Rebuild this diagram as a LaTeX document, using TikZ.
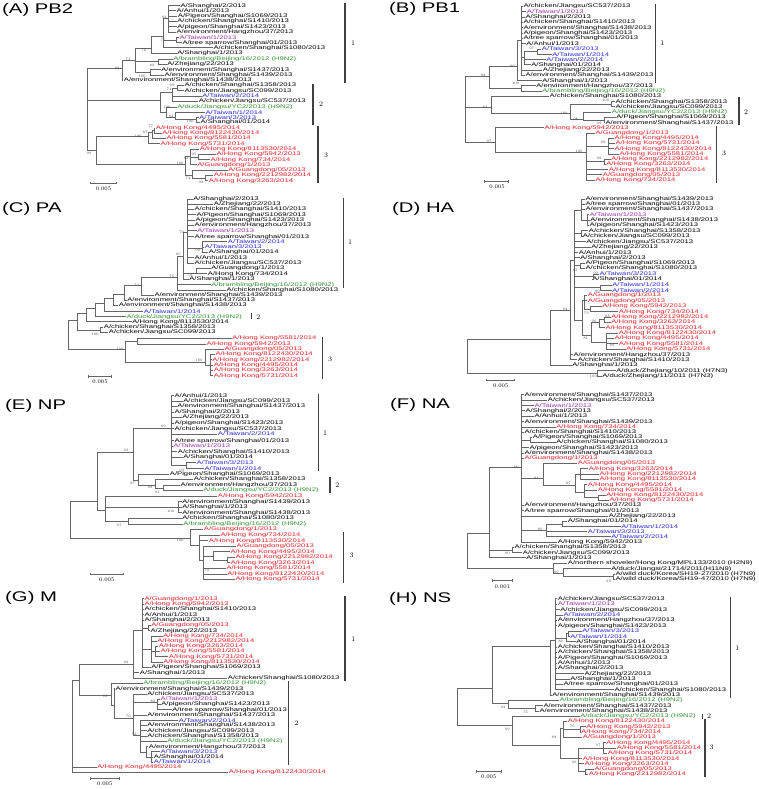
\documentclass[tikz,border=0pt]{standalone}
\usepackage{fontspec}
\usetikzlibrary{arrows.meta}
\newfontfamily\sansfig[FakeStretch=1.45]{Liberation Sans}
\definecolor{hkred}{RGB}{232,32,38}
\definecolor{twblue}{RGB}{40,40,225}
\definecolor{twpurple}{RGB}{160,50,175}
\definecolor{hngreen}{RGB}{50,150,50}
\newcommand\leaffont{\sansfig\fontsize{5.3}{5.3}\selectfont}
\newcommand\titlefont{\sansfig\fontsize{14}{14}\selectfont}
\newcommand\bsfont{\fontsize{3.6}{3.6}\selectfont}
\newcommand\cladefont{\fontsize{7}{7}\selectfont}
% branches: parent to leaves / parent to inner nodes
\newcommand\tips[2]{\foreach \kid in {#2} {\draw[br] (#1) |- (\kid.west);}}
\newcommand\subs[2]{\foreach \kid in {#2} {\draw[br] (#1) |- (\kid);}}

\begin{document}
\begin{tikzpicture}[x=1pt, y=-1pt,
    lf/.style={anchor=west, inner sep=0.4pt, font=\leaffont},
    hk/.style={text=hkred}, tw/.style={text=twblue},
    tw13/.style={text=twpurple}, hn/.style={text=hngreen},
    bs/.style={font=\bsfont, text=black!70, inner sep=0},
    br/.style={draw=black!60, line width=0.6pt},
    clade/.style={draw=black!75, line width=1.3pt},
    cl/.style={font=\cladefont, inner sep=0},
    ttl/.style={anchor=north west, inner sep=0, font=\titlefont},
    sbar/.style={draw=black!60, line width=0.6pt, {Bar[width=2.5pt]}-{Bar[width=2.5pt]}},
    sl/.style={font=\fontsize{5.5}{5.5}\selectfont, inner sep=0}]
\useasboundingbox (0,0) rectangle (759,789);

% ---------------- (A) PB2
\node[ttl] (aT) at (2,3) {(A) PB2};
\node[lf] (a1) at (180,5.7) {A/Shanghai/2/2013};
\node[lf] (a2) at (176,10.7) {A/Anhui/1/2013};
\node[lf] (a3) at (177.3,16) {A/Pigeon/Shanghai/S1069/2013};
\node[lf] (a4) at (176.7,21.3) {A/chicken/Shanghai/S1410/2013};
\node[lf] (a5) at (176.7,26.7) {A/pigeon/Shanghai/S1423/2013};
\node[lf] (a6) at (176,32) {A/environment/Hangzhou/37/2013};
\node[lf,tw13] (a7) at (179,37.3) {A/Taiwan/1/2013};
\node[lf] (a8) at (182,42.7) {A/tree sparrow/Shanghai/01/2013};
\node[lf] (a9) at (213,47.7) {A/chicken/Shanghai/S1080/2013};
\node[lf] (a10) at (176.7,53) {A/Shanghai/1/2013};
\node[lf,hn] (a11) at (172.7,59) {A/brambling/Beijing/16/2012 (H9N2)};
\node[lf] (a12) at (166.7,64.3) {A/Zhejiang/22/2013};
\node[lf] (a13) at (160.7,69.7) {A/environment/Shanghai/S1437/2013};
\node[lf] (a14) at (164,75) {A/environment/Shanghai/S1439/2013};
\node[lf] (a15) at (123.3,80.3) {A/environment/Shanghai/S1438/2013};
\node[lf] (a16) at (184,85.3) {A/chicken/Shanghai/S1358/2013};
\node[lf] (a17) at (184,90.7) {A/chicken/Jiangsu/SC099/2013};
\node[lf,tw] (a18) at (201.7,96) {A/Taiwan/2/2014};
\node[lf] (a19) at (198.3,101) {A/chicken/Jiangsu/SC537/2013};
\node[lf,hn] (a20) at (176.7,107.3) {A/duck/Jiangsu/YC2/2013 (H9N2)};
\node[lf,tw] (a21) at (205,112.3) {A/Taiwan/1/2014};
\node[lf,tw] (a22) at (198.7,117.3) {A/Taiwan/3/2013};
\node[lf] (a23) at (200,122.3) {A/Shanghai/01/2014};
\node[lf,hk] (a24) at (155.3,128) {A/Hong Kong/4495/2014};
\node[lf,hk] (a25) at (161.7,133) {A/Hong Kong/8122430/2014};
\node[lf,hk] (a26) at (166,138.3) {A/Hong Kong/5581/2014};
\node[lf,hk] (a27) at (160,143.7) {A/Hong Kong/5731/2014};
\node[lf,hk] (a28) at (199.3,149) {A/Hong Kong/8113530/2014};
\node[lf,hk] (a29) at (216,154.3) {A/Hong Kong/5942/2013};
\node[lf,hk] (a30) at (210,159.7) {A/Hong Kong/734/2014};
\node[lf,hk] (a31) at (196.7,164.7) {A/Guangdong/1/2013};
\node[lf,hk] (a32) at (227.7,170) {A/Guangdong/05/2013};
\node[lf,hk] (a33) at (213.3,175.3) {A/Hong Kong/2212982/2014};
\node[lf,hk] (a34) at (208.3,180.7) {A/Hong Kong/3263/2014};
\coordinate (aR) at (87,110);
\coordinate (aN1) at (122,68);
\coordinate (aN1a) at (135,60);
\coordinate (aN1b) at (151,48);
\coordinate (aN1e) at (163,36);
\coordinate (aN1f) at (168,18);
\coordinate (aN1g) at (176,40);
\coordinate (aN1c) at (158,61.7);
\coordinate (aN1d) at (150,72.3);
\coordinate (aN2) at (160,100);
\coordinate (aN2a) at (172,92);
\coordinate (aN2c) at (177,88);
\coordinate (aN2b) at (166,112);
\coordinate (aN2d) at (175,117);
\coordinate (aN2e) at (196,119.8);
\coordinate (aN3) at (96,150);
\coordinate (aN3a) at (148,136);
\coordinate (aN3c) at (152,132);
\coordinate (aN3d) at (154,130.5);
\coordinate (aN3b) at (185,164);
\coordinate (aN3e) at (190,156);
\coordinate (aN3g) at (198,157);
\coordinate (aN3f) at (192,175);
\coordinate (aN3h) at (205,178);
\subs{aR}{aN1,aN2,aN3}
\subs{aN1}{aN1a} \tips{aN1}{a15}
\subs{aN1a}{aN1b,aN1c,aN1d}
\subs{aN1b}{aN1e} \tips{aN1b}{a10}
\subs{aN1e}{aN1f,aN1g} \tips{aN1e}{a9}
\tips{aN1f}{a1,a2,a3,a4,a5,a6}
\tips{aN1g}{a7,a8}
\tips{aN1c}{a11,a12}
\tips{aN1d}{a13,a14}
\subs{aN2}{aN2a,aN2b}
\subs{aN2a}{aN2c} \tips{aN2a}{a18,a19}
\tips{aN2c}{a16,a17}
\subs{aN2b}{aN2d} \tips{aN2b}{a20}
\subs{aN2d}{aN2e} \tips{aN2d}{a21}
\tips{aN2e}{a22,a23}
\subs{aN3}{aN3a,aN3b}
\subs{aN3a}{aN3c} \tips{aN3a}{a27}
\subs{aN3c}{aN3d} \tips{aN3c}{a26}
\tips{aN3d}{a24,a25}
\subs{aN3b}{aN3e,aN3f}
\subs{aN3e}{aN3g} \tips{aN3e}{a28,a31}
\tips{aN3g}{a29,a30}
\subs{aN3f}{aN3h} \tips{aN3f}{a32}
\tips{aN3h}{a33,a34}
\node[bs] (aB1) at (164,17.5) {82};
\node[bs] (aB2) at (163,40.7) {75};
\node[bs] (aB3) at (144,50) {76};
\node[bs] (aB4) at (128,59) {73};
\node[bs] (aB5) at (152,65) {89};
\node[bs] (aB6) at (142,76) {100};
\node[bs] (aB7) at (117,68.5) {98};
\node[bs] (aB8) at (172,85) {99};
\node[bs] (aB9) at (169,89.5) {74};
\node[bs] (aB10) at (167,107.5) {100};
\node[bs] (aB11) at (171,116.5) {84};
\node[bs] (aB12) at (190,121.5) {100};
\node[bs] (aB13) at (150.5,126) {77};
\node[bs] (aB14) at (145,132) {87};
\node[bs] (aB15) at (138,136) {100};
\node[bs] (aB16) at (89,153) {99};
\node[bs] (aB17) at (186,158) {82};
\node[bs] (aB18) at (194,154) {95};
\node[bs] (aB19) at (180,163) {100};
\node[bs] (aB20) at (188,178) {74};
\node[bs] (aB21) at (201,182) {98};
\draw[clade] (345,3) -- (345,83);
\node[cl] (aC1) at (353,43) {1};
\draw[clade] (313,84) -- (313,125);
\node[cl] (aC2) at (321,104) {2};
\draw[clade] (318,126) -- (318,183);
\node[cl] (aC3) at (326,155) {3};
\coordinate (aS1) at (90,183); \coordinate (aS2) at (117,183);
\draw[sbar] (aS1) -- (aS2);
\node[sl] (aSl) at (103.5,188.5) {0.005};

% ---------------- (B) PB1
\node[ttl] (bT) at (389,2) {(B) PB1};
\node[lf] (b1) at (523,6.3) {A/chicken/Jiangsu/SC537/2013};
\node[lf,tw13] (b2) at (526.3,11.7) {A/Taiwan/1/2013};
\node[lf] (b3) at (525,17) {A/Shanghai/2/2013};
\node[lf] (b4) at (523,22.3) {A/chicken/Shanghai/S1410/2013};
\node[lf] (b5) at (523,27.7) {A/environment/Shanghai/S1438/2013};
\node[lf] (b6) at (523,33) {A/pigeon/Shanghai/S1423/2013};
\node[lf] (b7) at (523,38.3) {A/tree sparrow/Shanghai/01/2013};
\node[lf] (b8) at (525.7,43.7) {A/Anhui/1/2013};
\node[lf,tw] (b9) at (541.3,49) {A/Taiwan/3/2013};
\node[lf,tw] (b10) at (551.7,54.3) {A/Taiwan/1/2014};
\node[lf,tw] (b11) at (545.7,59.3) {A/Taiwan/2/2014};
\node[lf] (b12) at (530.7,64.7) {A/Shanghai/01/2014};
\node[lf] (b13) at (542.3,70) {A/Zhejiang/22/2013};
\node[lf] (b14) at (525,75.3) {A/environment/Shanghai/S1439/2013};
\node[lf] (b15) at (541.7,80.7) {A/Shanghai/1/2013};
\node[lf] (b16) at (535.7,85.7) {A/environment/Hangzhou/37/2013};
\node[lf,hn] (b17) at (541.7,91) {A/brambling/Beijing/16/2012 (H9N2)};
\node[lf] (b18) at (549,96.3) {A/chicken/Shanghai/S1080/2013};
\node[lf] (b19) at (615,101.7) {A/chicken/Shanghai/S1358/2013};
\node[lf] (b20) at (615,106.7) {A/chicken/Jiangsu/SC099/2013};
\node[lf,hn] (b21) at (611.3,112.3) {A/duck/Jiangsu/YC2/2013 (H9N2)};
\node[lf] (b22) at (615.7,117.3) {A/Pigeon/Shanghai/S1069/2013};
\node[lf] (b23) at (605,122.7) {A/environment/Shanghai/S1437/2013};
\node[lf,hk] (b24) at (544,127.7) {A/Hong Kong/5942/2013};
\node[lf,hk] (b25) at (595,133) {A/Guangdong/1/2013};
\node[lf,hk] (b26) at (614,138) {A/Hong Kong/4495/2014};
\node[lf,hk] (b27) at (615,143.3) {A/Hong Kong/5731/2014};
\node[lf,hk] (b28) at (614,148.7) {A/Hong Kong/8122430/2014};
\node[lf,hk] (b29) at (619,154) {A/Hong Kong/5581/2014};
\node[lf,hk] (b30) at (610.7,159) {A/Hong Kong/2212982/2014};
\node[lf,hk] (b31) at (605.7,164.3) {A/Hong Kong/3263/2014};
\node[lf,hk] (b32) at (608.3,169.7) {A/Hong Kong/8113530/2014};
\node[lf,hk] (b33) at (602.3,174.7) {A/Guangdong/05/2013};
\node[lf,hk] (b34) at (595,180) {A/Hong Kong/734/2014};
\coordinate (bR) at (465,110);
\coordinate (bNA) at (489,76);
\coordinate (bN1) at (517,66);
\coordinate (bN1a) at (521,40);
\coordinate (bN1b) at (524,57);
\coordinate (bN1c) at (537,51.7);
\coordinate (bNH) at (521,88.3);
\coordinate (bNB) at (491,107);
\coordinate (bN2) at (570,113);
\coordinate (bN2a) at (611,104.2);
\coordinate (bN2b) at (583,119);
\coordinate (bN2c) at (604,120);
\coordinate (bNC) at (495,142);
\coordinate (bN3) at (586,152);
\coordinate (bN3a) at (608,146);
\coordinate (bN3b) at (604,161.7);
\subs{bR}{bNA,bNB,bNC}
\subs{bNA}{bN1,bNH}
\subs{bN1}{bN1a} \tips{bN1}{b15}
\subs{bN1a}{bN1b} \tips{bN1a}{b1,b2,b3,b4,b5,b6,b7,b8,b13,b14}
\subs{bN1b}{bN1c} \tips{bN1b}{b11,b12}
\tips{bN1c}{b9,b10}
\tips{bNH}{b16,b17}
\subs{bNB}{bN2} \tips{bNB}{b18}
\subs{bN2}{bN2a,bN2b}
\tips{bN2a}{b19,b20}
\subs{bN2b}{bN2c} \tips{bN2b}{b21}
\tips{bN2c}{b22,b23}
\subs{bNC}{bN3} \tips{bNC}{b24}
\subs{bN3}{bN3a,bN3b} \tips{bN3}{b25,b32,b33,b34}
\tips{bN3a}{b26,b27,b28,b29}
\tips{bN3b}{b30,b31}
\node[bs] (bB1) at (531.7,48.3) {97};
\node[bs] (bB2) at (512.3,66.7) {99};
\node[bs] (bB3) at (483,75) {98};
\node[bs] (bB4) at (515.7,83.3) {100};
\node[bs] (bB5) at (485,107.3) {83};
\node[bs] (bB6) at (605.7,100) {100};
\node[bs] (bB7) at (564,113.3) {100};
\node[bs] (bB8) at (575.7,119.3) {98};
\node[bs] (bB9) at (599,123.3) {99};
\node[bs] (bB10) at (489,141.7) {97};
\node[bs] (bB11) at (603,142.7) {99};
\node[bs] (bB12) at (579,151.7) {100};
\node[bs] (bB13) at (599,158.3) {99};
\draw[clade] (655.7,4) -- (655.7,83);
\node[cl] (bC1) at (662.3,43) {1};
\draw[clade] (739,97) -- (739,125);
\node[cl] (bC2) at (746,112) {2};
\draw[clade] (716.3,126) -- (716.3,183);
\node[cl] (bC3) at (724,153.3) {3};
\coordinate (bS1) at (484,181.7); \coordinate (bS2) at (509,181.7);
\draw[sbar] (bS1) -- (bS2);
\node[sl] (bSl) at (497,186.5) {0.005};

% ---------------- (C) PA
\node[ttl] (cT) at (2,202) {(C) PA};
\node[lf] (c1) at (192.7,199) {A/Shanghai/2/2013};
\node[lf] (c2) at (213.3,204.3) {A/Zhejiang/22/2013};
\node[lf] (c3) at (194,209.3) {A/chicken/Shanghai/S1410/2013};
\node[lf] (c4) at (196,214.7) {A/Pigeon/Shanghai/S1069/2013};
\node[lf] (c5) at (195,220) {A/pigeon/Shanghai/S1423/2013};
\node[lf] (c6) at (194,225) {A/environment/Hangzhou/37/2013};
\node[lf,tw13] (c7) at (196.7,230.3) {A/Taiwan/1/2013};
\node[lf] (c8) at (194,236.7) {A/tree sparrow/Shanghai/01/2013};
\node[lf,tw] (c9) at (227.3,241.7) {A/Taiwan/2/2014};
\node[lf,tw] (c10) at (204.3,247) {A/Taiwan/3/2013};
\node[lf] (c11) at (208.3,252.3) {A/Shanghai/01/2014};
\node[lf] (c12) at (194,257.7) {A/Anhui/1/2013};
\node[lf] (c13) at (194,263) {A/chicken/Jiangsu/SC537/2013};
\node[lf] (c14) at (210.7,268.3) {A/Guangdong/1/2013};
\node[lf] (c15) at (207.3,273.7) {A/Hong Kong/734/2014};
\node[lf] (c16) at (188.7,279) {A/Shanghai/1/2013};
\node[lf,hn] (c17) at (210.7,284.7) {A/brambling/Beijing/16/2012 (H9N2)};
\node[lf] (c18) at (226,290) {A/chicken/Shanghai/S1080/2013};
\node[lf] (c19) at (154,295) {A/environment/Shanghai/S1439/2013};
\node[lf] (c20) at (126.7,300.3) {A/environment/Shanghai/S1437/2013};
\node[lf] (c21) at (118.3,305.3) {A/environment/Shanghai/S1438/2013};
\node[lf,tw] (c22) at (143.3,311.3) {A/Taiwan/1/2014};
\node[lf,hn] (c23) at (126,316.7) {A/duck/Jiangsu/YC2/2013 (H9N2)};
\node[lf] (c24) at (131.7,321.7) {A/Hong Kong/8113530/2014};
\node[lf] (c25) at (103.3,327) {A/chicken/Shanghai/S1358/2013};
\node[lf] (c26) at (108.3,332.3) {A/chicken/Jiangsu/SC099/2013};
\node[lf,hk] (c27) at (231.7,338.3) {A/Hong Kong/5581/2014};
\node[lf,hk] (c28) at (206,344) {A/Hong Kong/5942/2013};
\node[lf,hk] (c29) at (224,349) {A/Guangdong/05/2013};
\node[lf,hk] (c30) at (215,354.3) {A/Hong Kong/8122430/2014};
\node[lf,hk] (c31) at (211.7,359.7) {A/Hong Kong/2212982/2014};
\node[lf,hk] (c32) at (213.3,365) {A/Hong Kong/4495/2014};
\node[lf,hk] (c33) at (213.3,370.3) {A/Hong Kong/3263/2014};
\node[lf,hk] (c34) at (213.3,375.7) {A/Hong Kong/5731/2014};
\coordinate (cR) at (68,335);
\coordinate (cL1) at (77,320);
\coordinate (cNX) at (100,330);
\coordinate (cL2) at (86,313);
\coordinate (cL3) at (95,308);
\coordinate (cL4) at (104,303);
\coordinate (cL5) at (113,298);
\coordinate (cL6) at (124,294);
\coordinate (cL7) at (141,285);
\coordinate (cL8) at (177,277);
\coordinate (cL9) at (183,256);
\coordinate (cL10) at (187,232);
\coordinate (cNT) at (202,248);
\coordinate (cNG) at (196,273);
\coordinate (cN3) at (125,349);
\coordinate (cN3x) at (137,341);
\coordinate (cN3a) at (205,362);
\coordinate (cN3b) at (210,365);
\subs{cR}{cL1,cN3}
\subs{cL1}{cL2,cNX}
\subs{cL2}{cL3} \tips{cL2}{c24}
\subs{cL3}{cL4} \tips{cL3}{c23}
\subs{cL4}{cL5} \tips{cL4}{c22}
\subs{cL5}{cL6} \tips{cL5}{c21}
\subs{cL6}{cL7} \tips{cL6}{c20}
\subs{cL7}{cL8} \tips{cL7}{c19}
\subs{cL8}{cL9} \tips{cL8}{c17,c18}
\subs{cL9}{cL10,cNG} \tips{cL9}{c16}
\subs{cL10}{cNT} \tips{cL10}{c1,c2,c3,c4,c5,c6,c7,c8,c12,c13}
\tips{cNT}{c9,c10,c11}
\tips{cNG}{c14,c15}
\tips{cNX}{c25,c26}
\subs{cN3}{cN3x,cN3a}
\tips{cN3x}{c27,c28}
\subs{cN3a}{cN3b} \tips{cN3a}{c29}
\tips{cN3b}{c30,c31,c32,c33,c34}
\node[bs] (cB1) at (181.7,232.3) {70};
\node[bs] (cB2) at (197.7,250) {99};
\node[bs] (cB3) at (178.3,254.3) {85};
\node[bs] (cB4) at (190.7,275) {91};
\node[bs] (cB5) at (171.7,276.7) {76};
\node[bs] (cB6) at (136.7,285) {74};
\node[bs] (cB7) at (95,334.3) {100};
\node[bs] (cB8) at (120,349) {100};
\node[bs] (cB9) at (199,360.7) {100};
\draw[clade] (343.3,197.7) -- (343.3,287.7);
\node[cl] (cC1) at (350,241.7) {1};
\draw[clade] (251.7,313.3) -- (251.7,319);
\node[cl] (cC2) at (258.3,316.7) {2};
\draw[clade] (322.7,336.7) -- (322.7,379);
\node[cl] (cC3) at (330,359.3) {3};
\coordinate (cS1) at (88.3,376.7); \coordinate (cS2) at (111.7,376.7);
\draw[sbar] (cS1) -- (cS2);
\node[sl] (cSl) at (100,381.7) {0.005};

% ---------------- (D) HA
\node[ttl] (dT) at (392,202) {(D) HA};
\node[lf] (d1) at (585,199) {A/environment/Shanghai/S1439/2013};
\node[lf] (d2) at (585,204.3) {A/tree sparrow/Shanghai/01/2013};
\node[lf] (d3) at (585,209.3) {A/environment/Shanghai/S1437/2013};
\node[lf,tw13] (d4) at (589,214.7) {A/Taiwan/1/2013};
\node[lf] (d5) at (589.7,220) {A/environment/Shanghai/S1438/2013};
\node[lf] (d6) at (589,225.3) {A/pigeon/Shanghai/S1423/2013};
\node[lf] (d7) at (588.3,230.7) {A/chicken/Shanghai/S1358/2013};
\node[lf] (d8) at (582.3,236) {A/chicken/Jiangsu/SC099/2013};
\node[lf] (d9) at (585.7,241.7) {A/chicken/Jiangsu/SC537/2013};
\node[lf] (d10) at (590.7,247) {A/Zhejiang/22/2013};
\node[lf] (d11) at (578.3,252.3) {A/Anhui/1/2013};
\node[lf] (d12) at (579.7,257.7) {A/Shanghai/2/2013};
\node[lf] (d13) at (585,263) {A/Pigeon/Shanghai/S1069/2013};
\node[lf] (d14) at (585,268.3) {A/chicken/Shanghai/S1080/2013};
\node[lf,tw] (d15) at (599,274) {A/Taiwan/3/2013};
\node[lf] (d16) at (591.7,279.3) {A/Shanghai/01/2014};
\node[lf,tw] (d17) at (611.7,285) {A/Taiwan/1/2014};
\node[lf,tw] (d18) at (611.7,290.3) {A/Taiwan/2/2014};
\node[lf,hk] (d19) at (587.3,295.3) {A/Guangdong/1/2013};
\node[lf,hk] (d20) at (587.3,300.7) {A/Guangdong/05/2013};
\node[lf,hk] (d21) at (601.7,306) {A/Hong Kong/5942/2013};
\node[lf,hk] (d22) at (618.3,311.7) {A/Hong Kong/734/2014};
\node[lf,hk] (d23) at (610.7,317) {A/Hong Kong/2212982/2014};
\node[lf,hk] (d24) at (610.7,322.3) {A/Hong Kong/3263/2014};
\node[lf,hk] (d25) at (605,327.7) {A/Hong Kong/8113530/2014};
\node[lf,hk] (d26) at (618.3,333) {A/Hong Kong/8122430/2014};
\node[lf,hk] (d27) at (614,338.3) {A/Hong Kong/4495/2014};
\node[lf,hk] (d28) at (618.3,343.7) {A/Hong Kong/5581/2014};
\node[lf,hk] (d29) at (625.7,349) {A/Hong Kong/5731/2014};
\node[lf] (d30) at (573,354.7) {A/environment/Hangzhou/37/2013};
\node[lf] (d31) at (577.3,359.7) {A/chicken/Shanghai/S1410/2013};
\node[lf] (d32) at (571.7,365) {A/Shanghai/1/2013};
\node[lf] (d33) at (615.7,370.7) {A/duck/Zhejiang/10/2011 (H7N3)};
\node[lf] (d34) at (601.7,376) {A/duck/Zhejiang/11/2011 (H7N3)};
\coordinate (dR) at (467,355);
\coordinate (dNu) at (550.7,339);
\coordinate (dN94) at (570.7,310);
\coordinate (dNc) at (574,260);
\coordinate (dNc1) at (581,210);
\coordinate (dNc2) at (587,220);
\coordinate (dNc3) at (581.5,233.3);
\coordinate (dN85) at (580,265.7);
\coordinate (dN99a) at (593,276.7);
\coordinate (dN99b) at (600,287.7);
\coordinate (dNred) at (582,320);
\coordinate (dNr1) at (584.7,300);
\coordinate (dNr73) at (590,309);
\coordinate (dNr81) at (591,335);
\coordinate (dNr96) at (599,322);
\coordinate (dNr88) at (604,319.7);
\coordinate (dNr99) at (606,342);
\coordinate (dNH7) at (597.3,373);
\subs{dR}{dNu,dNH7}
\subs{dNu}{dN94} \tips{dNu}{d32}
\subs{dN94}{dNc} \tips{dN94}{d30,d31}
\subs{dNc}{dNc1,dNc3,dN85,dN99a,dN99b,dNred} \tips{dNc}{d9,d10,d11,d12}
\subs{dNc1}{dNc2} \tips{dNc1}{d1,d2,d3}
\tips{dNc2}{d4,d5,d6}
\tips{dNc3}{d7,d8}
\tips{dN85}{d13,d14}
\tips{dN99a}{d15,d16}
\tips{dN99b}{d17,d18}
\subs{dNred}{dNr1,dNr81}
\subs{dNr1}{dNr73} \tips{dNr1}{d19,d20}
\tips{dNr73}{d21,d22}
\subs{dNr81}{dNr96,dNr99}
\subs{dNr96}{dNr88} \tips{dNr96}{d25}
\tips{dNr88}{d23,d24}
\tips{dNr99}{d26,d27,d28,d29}
\tips{dNH7}{d33,d34}
\node[bs] (dB1) at (575,270) {85};
\node[bs] (dB2) at (595.7,273.3) {99};
\node[bs] (dB3) at (597.3,291.7) {99};
\node[bs] (dB4) at (565,309.3) {94};
\node[bs] (dB5) at (586.3,313.3) {73};
\node[bs] (dB6) at (607.3,316.7) {88};
\node[bs] (dB7) at (594,321) {96};
\node[bs] (dB8) at (585.7,338.3) {81};
\node[bs] (dB9) at (612,345.5) {99};
\node[bs] (dB10) at (593.3,376.7) {100};
\coordinate (dS1) at (486.3,380); \coordinate (dS2) at (515,380);
\draw[sbar] (dS1) -- (dS2);
\node[sl] (dSl) at (500.7,385.7) {0.005};

% ---------------- (E) NP
\node[ttl] (eT) at (5,399) {(E) NP};
\node[lf] (e1) at (174,395.7) {A/Anhui/1/2013};
\node[lf] (e2) at (182.7,401) {A/chicken/Jiangsu/SC099/2013};
\node[lf] (e3) at (176.7,406.3) {A/environment/Shanghai/S1437/2013};
\node[lf] (e4) at (174,412) {A/Shanghai/2/2013};
\node[lf] (e5) at (181.7,417.3) {A/Zhejiang/22/2013};
\node[lf] (e6) at (174,423) {A/pigeon/Shanghai/S1423/2013};
\node[lf] (e7) at (174,428.7) {A/chicken/Jiangsu/SC537/2013};
\node[lf,tw] (e8) at (217.3,434) {A/Taiwan/2/2014};
\node[lf] (e9) at (174,440.7) {A/tree sparrow/Shanghai/01/2013};
\node[lf,tw13] (e10) at (172.7,446) {A/Taiwan/1/2013};
\node[lf] (e11) at (177.3,451.7) {A/chicken/Shanghai/S1410/2013};
\node[lf] (e12) at (182.7,457) {A/Shanghai/01/2014};
\node[lf,tw] (e13) at (196,462.7) {A/Taiwan/3/2013};
\node[lf,tw] (e14) at (204,468.3) {A/Taiwan/1/2014};
\node[lf] (e15) at (169.3,474) {A/Pigeon/Shanghai/S1069/2013};
\node[lf] (e16) at (193.3,479.3) {A/chicken/Shanghai/S1358/2013};
\node[lf] (e17) at (180,485) {A/environment/Hangzhou/37/2013};
\node[lf,hn] (e18) at (202.7,490.3) {A/duck/Jiangsu/YC2/2013 (H9N2)};
\node[lf,hk] (e19) at (217.3,496) {A/Hong Kong/5942/2013};
\node[lf] (e20) at (181.7,501.7) {A/environment/Shanghai/S1439/2013};
\node[lf] (e21) at (181.7,507) {A/Shanghai/1/2013};
\node[lf] (e22) at (181.7,512.7) {A/environment/Shanghai/S1438/2013};
\node[lf] (e23) at (181.7,518.3) {A/chicken/Shanghai/S1080/2013};
\node[lf,hn] (e24) at (182.7,524) {A/brambling/Beijing/16/2012 (H9N2)};
\node[lf,hk] (e25) at (203.3,529.3) {A/Guangdong/1/2013};
\node[lf,hk] (e26) at (220,535) {A/Hong Kong/734/2014};
\node[lf,hk] (e27) at (208.3,540.7) {A/Hong Kong/8113530/2014};
\node[lf,hk] (e28) at (236,546) {A/Guangdong/05/2013};
\node[lf,hk] (e29) at (230,551.7) {A/Hong Kong/4495/2014};
\node[lf,hk] (e30) at (235,557.3) {A/Hong Kong/2212982/2014};
\node[lf,hk] (e31) at (230,562.7) {A/Hong Kong/3263/2014};
\node[lf,hk] (e32) at (226,568.3) {A/Hong Kong/5581/2014};
\node[lf,hk] (e33) at (226.7,574) {A/Hong Kong/8122430/2014};
\node[lf,hk] (e34) at (235,579.3) {A/Hong Kong/5731/2014};
\coordinate (eR) at (70,518);
\coordinate (eNU) at (97,501.7);
\coordinate (eN93) at (133,452);
\coordinate (eN99) at (171,428);
\coordinate (eNtw) at (186,465.5);
\coordinate (eN87) at (138,480);
\coordinate (eN98) at (155,485);
\coordinate (eN91) at (163,488);
\coordinate (eNm) at (105,510);
\coordinate (eN100) at (178,507);
\coordinate (eN97) at (128,521);
\coordinate (eN3) at (190,538);
\coordinate (eN3a) at (199,545);
\coordinate (eN3b) at (203,560);
\coordinate (eN3c) at (213,556);
\coordinate (eN3d) at (227,560);
\subs{eR}{eNU,eN3}
\subs{eNU}{eN93,eNm}
\subs{eN93}{eN99,eN87}
\subs{eN99}{eNtw} \tips{eN99}{e1,e2,e3,e4,e5,e6,e7,e8,e9,e10,e11,e12}
\tips{eNtw}{e13,e14}
\subs{eN87}{eN98} \tips{eN87}{e15}
\subs{eN98}{eN91} \tips{eN98}{e16}
\tips{eN91}{e17,e18}
\subs{eNm}{eN100,eN97} \tips{eNm}{e19}
\tips{eN100}{e20,e21,e22}
\tips{eN97}{e23,e24}
\subs{eN3}{eN3a} \tips{eN3}{e25}
\subs{eN3a}{eN3b} \tips{eN3a}{e26,e27}
\subs{eN3b}{eN3c} \tips{eN3b}{e28,e32,e33,e34}
\subs{eN3c}{eN3d} \tips{eN3c}{e29}
\tips{eN3d}{e30,e31}
\node[bs] (eB1) at (163.3,426) {99};
\node[bs] (eB2) at (126,450.7) {93};
\node[bs] (eB3) at (181.7,470) {93};
\node[bs] (eB4) at (132.7,483.3) {87};
\node[bs] (eB5) at (150,487.3) {98};
\node[bs] (eB6) at (157.3,492.3) {91};
\node[bs] (eB7) at (170.7,511.7) {100};
\node[bs] (eB8) at (119,525) {97};
\node[bs] (eB9) at (180,540) {100};
\node[bs] (eB10) at (206.7,570) {74};
\draw[clade] (318.3,394) -- (318.3,470.7);
\node[cl] (eC1) at (325,432.7) {1};
\draw[clade] (330,477.3) -- (330,493.3);
\node[cl] (eC2) at (337.3,485) {2};
\draw[clade] (343.3,532.3) -- (343.3,583.3);
\node[cl] (eC3) at (351.7,555.7) {3};
\coordinate (eS1) at (90,574); \coordinate (eS2) at (123.3,574);
\draw[sbar] (eS1) -- (eS2);
\node[sl] (eSl) at (106.7,580) {0.005};

% ---------------- (F) NA
\node[ttl] (fT) at (390,398) {(F) NA};
\node[lf] (f1) at (524,394.7) {A/environment/Shanghai/S1437/2013};
\node[lf] (f2) at (547.3,400) {A/chicken/Jiangsu/SC537/2013};
\node[lf,tw13] (f3) at (534,405.3) {A/Taiwan/1/2013};
\node[lf] (f4) at (525,410.7) {A/Shanghai/2/2013};
\node[lf] (f5) at (534,416) {A/Anhui/1/2013};
\node[lf] (f6) at (524,421.7) {A/environment/Shanghai/S1439/2013};
\node[lf,hk] (f7) at (555.7,427) {A/Hong Kong/734/2014};
\node[lf] (f8) at (524,432.3) {A/chicken/Shanghai/S1410/2013};
\node[lf] (f9) at (532.3,437.3) {A/Pigeon/Shanghai/S1069/2013};
\node[lf] (f10) at (555.7,442.3) {A/chicken/Shanghai/S1080/2013};
\node[lf] (f11) at (529,447.7) {A/pigeon/Shanghai/S1423/2013};
\node[lf] (f12) at (524,453) {A/environment/Shanghai/S1438/2013};
\node[lf,hk] (f13) at (524,458) {A/Guangdong/1/2013};
\node[lf,hk] (f14) at (577.3,463) {A/Guangdong/05/2013};
\node[lf,hk] (f15) at (588.3,468.7) {A/Hong Kong/3263/2014};
\node[lf,hk] (f16) at (599,474) {A/Hong Kong/2212982/2014};
\node[lf,hk] (f17) at (599,479.3) {A/Hong Kong/8113530/2014};
\node[lf,hk] (f18) at (587.3,484.7) {A/Hong Kong/4495/2014};
\node[lf,hk] (f19) at (597.3,490) {A/Hong Kong/5581/2014};
\node[lf,hk] (f20) at (605.7,495) {A/Hong Kong/8122430/2014};
\node[lf,hk] (f21) at (609,500.3) {A/Hong Kong/5731/2014};
\node[lf] (f22) at (524,505.3) {A/environment/Hangzhou/37/2013};
\node[lf] (f23) at (524,510.7) {A/tree sparrow/Shanghai/01/2013};
\node[lf] (f24) at (608.3,516) {A/Zhejiang/22/2013};
\node[lf] (f25) at (567.3,521) {A/Shanghai/01/2014};
\node[lf,tw] (f26) at (620.7,526.3) {A/Taiwan/1/2014};
\node[lf,tw] (f27) at (587.3,531.3) {A/Taiwan/3/2013};
\node[lf,tw] (f28) at (610.7,536.7) {A/Taiwan/2/2014};
\node[lf] (f29) at (557.3,542) {A/Hong Kong/5942/2013};
\node[lf] (f30) at (514,547.3) {A/chicken/Shanghai/S1358/2013};
\node[lf] (f31) at (522.3,552.7) {A/chicken/Jiangsu/SC099/2013};
\node[lf] (f32) at (525.7,557.7) {A/Shanghai/1/2013};
\node[lf] (f33) at (567.3,563.3) {A/northern shoveler/Hong Kong/MPL133/2010 (H2N9)};
\node[lf] (f34) at (610.7,568.7) {A/duck/Jiangsi/21714/2011(H11N9)};
\node[lf] (f35) at (615,574) {A/wild duck/Korea/SH19-27/2010 (H7N9)};
\node[lf] (f36) at (615,579) {A/wild duck/Korea/SH19-47/2010 (H7N9)};
\coordinate (fR) at (467.3,555);
\coordinate (fNU) at (489,533);
\coordinate (fN88) at (521.7,467);
\coordinate (fNpig) at (530,440);
\coordinate (fN94) at (543,478);
\coordinate (fN87) at (575,485);
\coordinate (fNq) at (580,474);
\coordinate (fNr) at (584,492);
\coordinate (fNs) at (598,497.7);
\coordinate (fN80) at (546,530);
\coordinate (fNa) at (562,524);
\coordinate (fN90) at (512,550);
\coordinate (fNW) at (553,568);
\coordinate (fN99) at (563,573);
\coordinate (fN99b) at (613,576.5);
\subs{fR}{fNU,fNW}
\subs{fNU}{fN88,fN90} \tips{fNU}{f32}
\subs{fN88}{fNpig,fN94,fN80} \tips{fN88}{f1,f2,f3,f4,f5,f6,f7,f8,f11,f12,f13,f22,f23,f24,f29}
\tips{fNpig}{f9,f10}
\subs{fN94}{fN87} \tips{fN94}{f14}
\subs{fN87}{fNq,fNr}
\tips{fNq}{f15,f16,f17}
\subs{fNr}{fNs} \tips{fNr}{f18,f19}
\tips{fNs}{f20,f21}
\subs{fN80}{fNa} \tips{fN80}{f27,f28}
\tips{fNa}{f25,f26}
\tips{fN90}{f30,f31}
\subs{fNW}{fN99} \tips{fNW}{f33}
\subs{fN99}{fN99b} \tips{fN99}{f34}
\tips{fN99b}{f35,f36}
\node[bs] (fB1) at (515.7,467.3) {88};
\node[bs] (fB2) at (536.3,478.3) {94};
\node[bs] (fB3) at (568.3,483.3) {87};
\node[bs] (fB4) at (540,529.3) {80};
\node[bs] (fB5) at (507.3,553.3) {90};
\node[bs] (fB6) at (556.3,572.7) {99};
\node[bs] (fB7) at (608.5,581) {99};
\coordinate (fS1) at (492.3,580.7); \coordinate (fS2) at (512.3,580.7);
\draw[sbar] (fS1) -- (fS2);
\node[sl] (fSl) at (502.3,586.7) {0.001};

% ---------------- (G) M
\node[ttl] (gT) at (5,591) {(G) M};
\node[lf,hk] (g1) at (144,598.7) {A/Guangdong/1/2013};
\node[lf,hk] (g2) at (144,604) {A/Hong Kong/5942/2013};
\node[lf] (g3) at (144,609.3) {A/chicken/Shanghai/S1410/2013};
\node[lf] (g4) at (144,614.7) {A/Anhui/1/2013};
\node[lf] (g5) at (144,620) {A/Shanghai/2/2013};
\node[lf,hk] (g6) at (150.7,625.3) {A/Guangdong/05/2013};
\node[lf] (g7) at (150,630.7) {A/Zhejiang/22/2013};
\node[lf,hk] (g8) at (162.7,636) {A/Hong Kong/734/2014};
\node[lf,hk] (g9) at (156.7,641.3) {A/Hong Kong/2212982/2014};
\node[lf,hk] (g10) at (158.3,646.3) {A/Hong Kong/3263/2014};
\node[lf,hk] (g11) at (160,651.3) {A/Hong Kong/5581/2014};
\node[lf,hk] (g12) at (168.3,656.7) {A/Hong Kong/5731/2014};
\node[lf,hk] (g13) at (162.7,662) {A/Hong Kong/8113530/2014};
\node[lf] (g14) at (150.7,667.3) {A/Pigeon/Shanghai/S1069/2013};
\node[lf] (g15) at (139.3,672.7) {A/Shanghai/1/2013};
\node[lf] (g16) at (227.3,678) {A/chicken/Shanghai/S1080/2013};
\node[lf,hn] (g17) at (142.7,683.3) {A/brambling/Beijing/16/2012 (H9N2)};
\node[lf] (g18) at (115,688.7) {A/environment/Shanghai/S1439/2013};
\node[lf] (g19) at (146.7,694) {A/chicken/Jiangsu/SC537/2013};
\node[lf,tw13] (g20) at (160,699) {A/Taiwan/1/2013};
\node[lf] (g21) at (160.7,704.3) {A/pigeon/Shanghai/S1423/2013};
\node[lf] (g22) at (171.7,709.7) {A/tree sparrow/Shanghai/01/2013};
\node[lf] (g23) at (146.7,715) {A/environment/Shanghai/S1437/2013};
\node[lf,tw] (g24) at (178.3,720.3) {A/Taiwan/2/2014};
\node[lf] (g25) at (146.7,725.3) {A/environment/Shanghai/S1438/2013};
\node[lf] (g26) at (146.7,730.7) {A/chicken/Jiangsu/SC099/2013};
\node[lf] (g27) at (146.7,736) {A/chicken/Shanghai/S1358/2013};
\node[lf,hn] (g28) at (166.7,741.3) {A/duck/Jiangsu/YC2/2013 (H9N2)};
\node[lf] (g29) at (148.3,746.7) {A/environment/Hangzhou/37/2013};
\node[lf,tw] (g30) at (160,751.7) {A/Taiwan/3/2013};
\node[lf] (g31) at (153.3,757) {A/Shanghai/01/2014};
\node[lf,tw] (g32) at (153.3,762) {A/Taiwan/1/2014};
\node[lf,hk] (g33) at (96.7,767.3) {A/Hong Kong/4495/2014};
\node[lf,hk] (g34) at (228.3,772.3) {A/Hong Kong/8122430/2014};
\coordinate (gR) at (72.7,740);
\coordinate (gNU) at (79,680);
\coordinate (gN99) at (133,664);
\coordinate (gNtop) at (142,630);
\coordinate (gNg05) at (148,628);
\coordinate (gNhk) at (151,649);
\coordinate (gNhk2) at (155,651.3);
\coordinate (gN95) at (111,695);
\coordinate (gN95b) at (114,705);
\coordinate (gN76) at (133,718);
\coordinate (gN89) at (157,702);
\coordinate (gN72) at (140,735);
\coordinate (gNsh) at (146,752);
\coordinate (gNtw) at (151,757);
\subs{gR}{gNU} \tips{gR}{g33,g34}
\subs{gNU}{gN99,gN95}
\subs{gN99}{gNtop} \tips{gN99}{g15,g16}
\subs{gNtop}{gNg05,gNhk} \tips{gNtop}{g1,g2,g3,g4,g5,g14}
\tips{gNg05}{g6,g7}
\subs{gNhk}{gNhk2} \tips{gNhk}{g8,g9,g13}
\tips{gNhk2}{g10,g11,g12}
\subs{gN95}{gN95b} \tips{gN95}{g17}
\subs{gN95b}{gN76} \tips{gN95b}{g18}
\subs{gN76}{gN89,gN72} \tips{gN76}{g19,g23}
\tips{gN89}{g20,g21,g22}
\subs{gN72}{gNsh} \tips{gN72}{g24,g25,g26,g27,g28}
\subs{gNsh}{gNtw} \tips{gNsh}{g29}
\tips{gNtw}{g30,g31,g32}
\node[bs] (gB1) at (126,662) {99};
\node[bs] (gB2) at (105,696.3) {95};
\node[bs] (gB3) at (152.7,701.3) {89};
\node[bs] (gB4) at (128.3,716.3) {76};
\node[bs] (gB5) at (134,734.7) {72};
\draw[clade] (345,596.3) -- (345,680.7);
\node[cl] (gC1) at (353.3,638.7) {1};
\draw[clade] (288.3,681.3) -- (288.3,764.7);
\node[cl] (gC2) at (296.7,723) {2};
\coordinate (gS1) at (90,778.7); \coordinate (gS2) at (119.3,778.7);
\draw[sbar] (gS1) -- (gS2);
\node[sl] (gSl) at (104.7,784) {0.005};

% ---------------- (H) NS
\node[ttl] (hT) at (389,592) {(H) NS};
\node[lf] (h1) at (557.3,598.7) {A/chicken/Jiangsu/SC537/2013};
\node[lf,tw13] (h2) at (557.3,604) {A/Taiwan/1/2013};
\node[lf] (h3) at (559.7,609.7) {A/chicken/Jiangsu/SC099/2013};
\node[lf,tw] (h4) at (563,615) {A/Taiwan/2/2014};
\node[lf] (h5) at (557.3,620.3) {A/environment/Hangzhou/37/2013};
\node[lf] (h6) at (557.3,625.7) {A/pigeon/Shanghai/S1423/2013};
\node[lf,tw] (h7) at (581.7,631) {A/Taiwan/3/2013};
\node[lf,tw] (h8) at (569.7,636.3) {A/Taiwan/1/2014};
\node[lf] (h9) at (575.7,641.7) {A/Shanghai/01/2014};
\node[lf] (h10) at (557.3,647) {A/chicken/Shanghai/S1410/2013};
\node[lf] (h11) at (557.3,652.3) {A/chicken/Shanghai/S1358/2013};
\node[lf] (h12) at (557.3,657.7) {A/Pigeon/Shanghai/S1069/2013};
\node[lf] (h13) at (557.3,663) {A/Anhui/1/2013};
\node[lf] (h14) at (557.3,668.3) {A/Shanghai/2/2013};
\node[lf] (h15) at (584,673.7) {A/Zhejiang/22/2013};
\node[lf] (h16) at (569.7,679) {A/Shanghai/1/2013};
\node[lf] (h17) at (563,684.3) {A/tree sparrow/Shanghai/01/2013};
\node[lf] (h18) at (614,689.7) {A/chicken/Shanghai/S1080/2013};
\node[lf] (h19) at (551.7,695) {A/environment/Shanghai/S1439/2013};
\node[lf,hn] (h20) at (559,700.3) {A/brambling/Beijing/16/2012 (H9N2)};
\node[lf] (h21) at (543,705.7) {A/environment/Shanghai/S1437/2013};
\node[lf] (h22) at (539,711) {A/environment/Shanghai/S1438/2013};
\node[lf,hn] (h23) at (579.7,716.3) {A/duck/Jiangsu/YC2/2013 (H9N2)};
\node[lf,hk] (h24) at (567.3,721.3) {A/Hong Kong/8122430/2014};
\node[lf,hk] (h25) at (585.7,726.7) {A/Hong Kong/5942/2013};
\node[lf,hk] (h26) at (580.7,732) {A/Hong Kong/734/2014};
\node[lf,hk] (h27) at (582.3,737.3) {A/Guangdong/1/2013};
\node[lf,hk] (h28) at (605.7,742.7) {A/Hong Kong/4495/2014};
\node[lf,hk] (h29) at (616.3,748) {A/Hong Kong/5581/2014};
\node[lf,hk] (h30) at (607.3,753.3) {A/Hong Kong/5731/2014};
\node[lf,hk] (h31) at (582.3,758.7) {A/Hong Kong/8113530/2014};
\node[lf,hk] (h32) at (584,763.7) {A/Hong Kong/3263/2014};
\node[lf,hk] (h33) at (594,769) {A/Guangdong/05/2013};
\node[lf,hk] (h34) at (588.3,774.3) {A/Hong Kong/2212982/2014};
\coordinate (hR) at (457.3,705);
\coordinate (hNU) at (492.3,688);
\coordinate (hN1) at (550,646);
\coordinate (hN1a) at (555,640);
\coordinate (hN86) at (566,638);
\coordinate (hNtw) at (568,633.7);
\coordinate (hN92) at (508.3,703);
\coordinate (hN75) at (535.7,708.3);
\coordinate (hNL) at (512.3,725);
\coordinate (hN88) at (560,745);
\coordinate (hNhk1) at (563,728);
\coordinate (hN76) at (580,729);
\coordinate (hN90) at (578,758);
\coordinate (hN97) at (603,748);
\coordinate (hNgd) at (585,771.7);
\subs{hR}{hNU,hNL}
\subs{hNU}{hN1,hN92}
\subs{hN1}{hN1a} \tips{hN1}{h19}
\subs{hN1a}{hN86} \tips{hN1a}{h1,h2,h3,h4,h5,h6,h10,h11,h12,h13,h14,h15,h16,h17,h18}
\subs{hN86}{hNtw} \tips{hN86}{h9}
\tips{hNtw}{h7,h8}
\subs{hN92}{hN75} \tips{hN92}{h20}
\tips{hN75}{h21,h22}
\subs{hNL}{hN88} \tips{hNL}{h23}
\subs{hN88}{hNhk1,hN90}
\subs{hNhk1}{hN76} \tips{hNhk1}{h24,h27}
\tips{hN76}{h25,h26}
\subs{hN90}{hN97,hNgd} \tips{hN90}{h31,h32}
\tips{hN97}{h28,h29,h30}
\tips{hNgd}{h33,h34}
\node[bs] (hB1) at (560.7,641.3) {86};
\node[bs] (hB2) at (503,707.3) {92};
\node[bs] (hB3) at (525.7,712) {75};
\node[bs] (hB4) at (507.3,729.7) {99};
\node[bs] (hB5) at (572.3,726.3) {76};
\node[bs] (hB6) at (554,737.3) {88};
\node[bs] (hB7) at (598,745) {97};
\node[bs] (hB8) at (574,762) {90};
\draw[clade] (730.7,597.3) -- (730.7,698);
\node[cl] (hC1) at (737.3,648) {1};
\draw[clade] (702.3,713.7) -- (702.3,718.7);
\node[cl] (hC2) at (709,715.7) {2};
\draw[clade] (705,718.7) -- (705,777.3);
\node[cl] (hC3) at (711.7,747.3) {3};
\coordinate (hS1) at (475.7,771.3); \coordinate (hS2) at (501.7,771.3);
\draw[sbar] (hS1) -- (hS2);
\node[sl] (hSl) at (488.7,776.3) {0.005};
\end{tikzpicture}
\end{document}
